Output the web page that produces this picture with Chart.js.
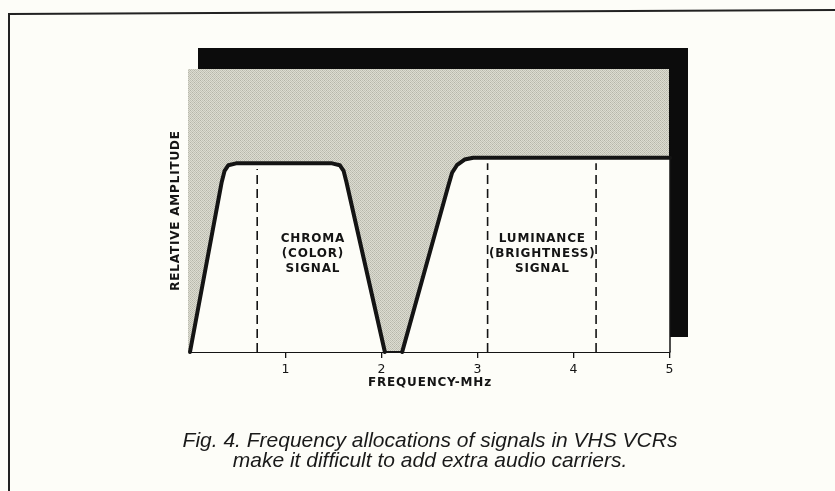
<!DOCTYPE html>
<html>
<head>
<meta charset="utf-8">
<script src="https://cdn.jsdelivr.net/npm/chart.js@4.4.1/dist/chart.umd.min.js"></script>
<style>
  html, body { margin: 0; padding: 0; background: #fdfdf8; }
  #wrap { width: 835px; height: 491px; }
</style>
</head>
<body>
<div id="wrap"><canvas id="fig"></canvas></div>
<script>
// band outlines: frequency in MHz, relative amplitude
let chromaFreq = [0, 0.33, 0.36, 0.40, 0.48, 1.48, 1.56, 1.60, 1.63, 2.03];
let chromaAmp  = [0, 0.90, 0.96, 0.99, 1.00, 1.00, 0.99, 0.96, 0.90, 0];
let lumaFreq = [2.21, 2.69, 2.73, 2.78, 2.86, 2.95, 5, 5];
let lumaAmp  = [0, 0.88, 0.95, 0.99, 1.02, 1.03, 1.03, 0];

// dashed carrier markers
let chromaMarks = [0.70];
let chromaMarkTop = 0.97;
let lumaMarks = [3.10, 4.23];
let lumaMarkTop = 1.0;

let xTicks = [0, 1, 2, 3, 4, 5];

let chromaText = ["CHROMA", "(COLOR)", "SIGNAL"];
let lumaText = ["LUMINANCE", "(BRIGHTNESS)", "SIGNAL"];
let bandTextX = [1.28, 3.67];
let bandTextY = [0.60, 0.52, 0.44];

let captionLines = [
    "Fig. 4. Frequency allocations of signals in VHS VCRs",
    "make it difficult to add extra audio carriers."
];

let paper = "#fdfdf8";
let ink = "#141414";

function toPoints(xs, ys) {
    return xs.map((x, i) => ({ x: x, y: ys[i] }));
}

// fine grey halftone used behind the bands
function stipple(ctx) {
    let c = document.createElement("canvas");
    c.width = 4; c.height = 4;
    let g = c.getContext("2d");
    g.fillStyle = "#dcdcd1";
    g.fillRect(0, 0, 4, 4);
    g.fillStyle = "#c2c2b6";
    for (let y = 0; y < 4; y++) {
        for (let x = 0; x < 4; x++) {
            if ((x + y) % 2 === 0) g.fillRect(x, y, 1, 1);
        }
    }
    g.fillStyle = "#b4b4a8";
    g.fillRect(0, 0, 1, 1);
    g.fillRect(2, 2, 1, 1);
    return ctx.createPattern(c, "repeat");
}

let markSets = [];
chromaMarks.forEach(f => markSets.push(toPoints([f, f], [0, chromaMarkTop])));
lumaMarks.forEach(f => markSets.push(toPoints([f, f], [0, lumaMarkTop])));

let figurePlugin = {
    id: "figure",
    beforeDraw(chart) {
        let ctx = chart.ctx;
        let a = chart.chartArea;
        ctx.save();
        ctx.fillStyle = paper;
        ctx.fillRect(0, 0, chart.width, chart.height);

        // page frame
        ctx.strokeStyle = "#222";
        ctx.lineWidth = 2;
        ctx.beginPath();
        ctx.moveTo(9, chart.height);
        ctx.lineTo(9, 14);
        ctx.lineTo(chart.width, 10);
        ctx.stroke();

        // black drop shadow and the grey field
        ctx.fillStyle = "#0c0c0c";
        ctx.fillRect(a.left + 8, a.top - 21, a.right - a.left + 10, a.bottom - a.top + 6);
        ctx.fillStyle = stipple(ctx);
        ctx.fillRect(a.left - 2, a.top, a.right - a.left + 1, a.bottom - a.top);
        ctx.restore();

        ctx.letterSpacing = "0.8px";
    },
    afterDatasetsDraw(chart) {
        let ctx = chart.ctx;
        let xs = chart.scales.x, ys = chart.scales.y;
        ctx.save();
        ctx.fillStyle = ink;
        ctx.font = "bold 12px 'DejaVu Sans'";
        ctx.letterSpacing = "0.8px";
        ctx.textAlign = "center";
        ctx.textBaseline = "middle";
        [chromaText, lumaText].forEach((lines, k) => {
            lines.forEach((t, i) => {
                ctx.fillText(t, xs.getPixelForValue(bandTextX[k]), ys.getPixelForValue(bandTextY[i]));
            });
        });
        ctx.restore();
    },
    afterDraw(chart) {
        let ctx = chart.ctx;
        ctx.save();
        ctx.letterSpacing = "0px";
        ctx.fillStyle = "#1a1a1a";
        ctx.font = "italic 21px 'Liberation Sans'";
        ctx.textAlign = "center";
        ctx.textBaseline = "middle";
        captionLines.forEach((t, i) => ctx.fillText(t, 430, 441 + i * 20));
        ctx.restore();
    }
};

let bandStyle = {
    borderColor: ink,
    borderWidth: 4,
    borderJoinStyle: "round",
    borderCapStyle: "round",
    backgroundColor: paper,
    fill: "origin",
    pointRadius: 0,
    tension: 0,
    clip: false,
    order: 2
};

let datasets = [
    Object.assign({ label: "Chroma", data: toPoints(chromaFreq, chromaAmp) }, bandStyle),
    Object.assign({
        label: "Luminance",
        data: toPoints(lumaFreq, lumaAmp),
        segment: { borderWidth: c => c.p0DataIndex === lumaFreq.length - 2 ? 1.5 : 4 }
    }, bandStyle)
];
markSets.forEach((pts, i) => datasets.push({
    label: "mark" + i,
    data: pts,
    borderColor: ink,
    borderWidth: 1.6,
    borderDash: [9, 5],
    pointRadius: 0,
    fill: false,
    order: 1
}));

new Chart(document.getElementById("fig"), {
    type: "line",
    data: { datasets: datasets },
    options: {
        responsive: true,
        maintainAspectRatio: false,
        animation: false,
        events: [],
        layout: { padding: { left: 169, right: 165, top: 69, bottom: 99 } },
        plugins: { legend: { display: false }, tooltip: { enabled: false } },
        scales: {
            x: {
                type: "linear",
                min: 0,
                max: 5,
                afterFit(s) { s.height = 40; },
                afterBuildTicks(s) { s.ticks = xTicks.map(v => ({ value: v })); },
                ticks: {
                    autoSkip: false,
                    maxRotation: 0,
                    padding: 4,
                    color: ink,
                    font: { family: "DejaVu Sans", size: 12.5 },
                    callback: v => v === 0 ? "" : String(v)
                },
                grid: {
                    drawOnChartArea: false,
                    drawTicks: true,
                    tickLength: 6,
                    lineWidth: 1.3,
                    color: c => c.tick && c.tick.value === 0 ? "rgba(0,0,0,0)" : ink
                },
                border: { display: true, color: ink, width: 2 },
                title: {
                    display: true,
                    text: "FREQUENCY-MHz",
                    color: ink,
                    font: { family: "DejaVu Sans", size: 12, weight: "bold" },
                    padding: { top: 0, bottom: 2 }
                }
            },
            y: {
                min: 0,
                max: 1.5,
                afterFit(s) { s.width = 21; },
                ticks: { display: false },
                grid: { display: false },
                border: { display: false },
                title: {
                    display: true,
                    text: "RELATIVE AMPLITUDE",
                    color: ink,
                    font: { family: "DejaVu Sans", size: 12, weight: "bold" },
                    padding: { top: 0, bottom: 0 }
                }
            }
        }
    },
    plugins: [figurePlugin]
});
</script>
</body>
</html>
